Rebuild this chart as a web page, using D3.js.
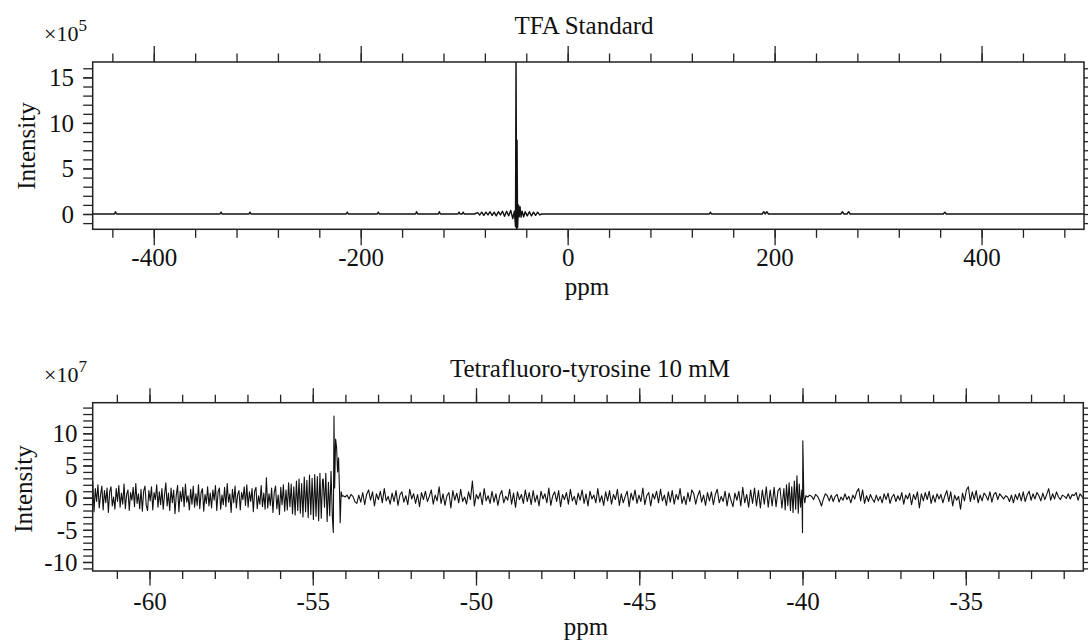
<!DOCTYPE html>
<html><head><meta charset="utf-8">
<script src="https://cdn.jsdelivr.net/npm/d3@7"></script>
<style>
body{margin:0;background:#fff}
svg{display:block}
text{font-family:"Liberation Serif","Times New Roman",serif;fill:#111}
</style></head><body>
<svg id="chart" width="1088" height="644"></svg>
<script>
// ---------------- DATA ----------------
const topTitle = "TFA Standard";
const bottomTitle = "Tetrafluoro-tyrosine 10 mM";
const xAxisLabel = "ppm";
const yAxisLabel = "Intensity";
const topExponent = "5";
const bottomExponent = "7";

const topXMajor = [-400, -200, 0, 200, 400];
const topYMajor = [0, 5, 10, 15];
const bottomXMajor = [-60, -55, -50, -45, -40, -35];
const bottomYMajor = [-10, -5, 0, 5, 10];

// TFA standard spectrum (ppm, intensity x1e5)
const tfaPpm = [-459, -438, -437, -436, -336, -335, -334, -308, -307, -306, -214, -213, -212, -184, -183, -182,
  -147, -146, -145, -125, -124, -123, -106, -105, -104, -102, -101, -100, -90, -87, -85, -83, -81, -79, -77,
  -75, -73, -71, -69, -67, -65, -63, -61, -59, -57, -55, -53, -51.5, -50.4, -49.9, -49.3, -48.9, -48.4, -47.5,
  -46.8, -46, -45, -44, -42.5, -41, -39, -37, -35, -33, -31, -29, -27, -25, 137, 138, 139, 188, 189.5, 191,
  192.5, 194, 264, 265.5, 267, 270, 271.5, 273, 363, 364.5, 366, 499];
const tfaInt = [0, 0, 0.25, 0, 0, 0.2, 0, 0, 0.2, 0, 0, 0.2, 0, 0, 0.2, 0,
  0, 0.25, 0, 0, 0.25, 0, 0, 0.2, 0, 0, 0.2, 0, 0, 0.15, -0.1, 0.2, -0.15, 0.2, -0.1,
  0.25, -0.15, 0.2, -0.2, 0.25, -0.1, 0.3, -0.25, 0.3, -0.2, 0.4, -0.5, 0.3, -1.4, 17.5, -1.6, 8.1, -1.5, 1.0,
  -0.3, 0.8, -0.35, 0.3, -0.3, 0.25, -0.2, 0.25, -0.2, 0.2, -0.15, 0.2, -0.1, 0, 0, 0.2, 0, 0, 0.25, 0,
  0.25, 0, 0, 0.25, 0, 0, 0.25, 0, 0, 0.2, 0, 0];

// Tetrafluoro-tyrosine spectrum (intensity x1e7): uniform ppm grid segments + peak regions
const noiseAStart = -61.74, noiseAStep = 0.04;
const noiseA = [2.6, -2.2, 1.4, -0.6, 2.0, -1.6, 0.4, 1.8, -1.9, 1.1,
  -0.8, 1.5, -2.3, 0.9, 1.7, -1.3, 0.1, -1.8, 1.4, -0.6,
  1.9, -1.5, 0.7, -1.0, 2.1, -1.7, 0.5, 1.2, -2.0, 0.8,
  -0.4, 1.6, -1.4, 2.2, -0.9, 0.6, -1.7, 1.3, -2.1, 1.0,
  1.8, -1.2, -2.0, 1.1, -0.5, 1.7, -1.9, 0.8, -0.3, 2.0,
  -1.5, 0.9, -1.1, 1.4, -1.8, 0.5, 2.3, -1.3, 0.7, -2.0,
  1.5, -0.8, 1.2, -2.5, 0.4, 1.9, -2.2, 1.0, -0.6, 1.6,
  -1.4, 2.1, -0.7, 0.3, -1.9, 1.3, -1.0, 1.8, -1.5, 0.6,
  -1.2, 2.0, -1.7, 0.8, 1.4, -2.1, 0.5, -0.9, 1.7, -1.3,
  0.7, -1.6, 1.2, -0.4, 1.9, -2.0, 0.9, 1.5, -1.8, 0.4,
  -1.1, 1.6, -1.4, 2.2, -0.7, 0.6, -2.3, 1.3, -0.8, 1.8,
  -1.6, 0.5, 1.1, -1.9, 0.8, -0.3, 1.7, -1.2, 2.0, -1.5,
  0.9, -0.6, 1.4, -2.2, 1.0, 1.6, -1.7, 0.3, -1.0, 1.9,
  -1.4, 0.7, -1.8, 3.1, -1.6, 0.6, -1.2, 1.5, -2.3, 0.8,
  1.8, -1.7, 0.4, -2.6, 1.6, -1.1, 2.0, -2.1, 1.2, -1.9,
  2.3, -1.4, 2.1, -2.5, 1.7, -2.7, 2.6, -2.0, 2.9, -2.4,
  2.2, -3.0, 3.2, -2.2, 2.7, -3.1, 3.5, -2.6, 3.0, -3.4,
  3.6, -2.9, 3.3, -3.6, 3.8, -3.2, 2.8];
const peakAPpm = [-54.68, -54.64, -54.60, -54.56, -54.52, -54.48, -54.44, -54.40, -54.37, -54.35, -54.33, -54.30,
  -54.27, -54.24, -54.21, -54.18, -54.16, -54.13, -54.10];
const peakAInt = [2.9, -1.5, 3.8, -3.7, 2.4, -2.8, 4.1, -3.0, -5.4, 12.7, 1.5, 9.1, 7.8, 4.0, 6.2, 1.0, -3.9, 0.9, 0.2];
const noiseBStart = -54.07, noiseBStep = 0.06;
const noiseB = [0.3, 0.1, 0.4, -0.2, 0.5, 0.2, -0.6, -0.9, 0.4,
  -0.7, 0.8, -1.1, 0.5, 1.2, -0.4, 0.9, -1.3, 0.6, -0.3,
  1.0, -0.8, 1.4, -0.5, 0.2, -1.0, 0.7, -0.6, 1.1, -1.2,
  0.4, 0.9, -0.7, 0.3, -1.1, 1.3, -0.2, 0.6, -0.9, 0.5,
  -1.4, 0.8, -0.3, 1.0, -0.6, 0.2, 1.2, -1.0, 0.4, -0.5,
  1.7, -0.9, 0.6, -1.2, 0.3, 0.8, -1.6, 1.1, -0.4, 0.7,
  -0.8, 1.3, -0.6, 0.1, -1.0, 0.9, -0.3, 2.6, -1.3, 0.5,
  -0.2, 0.8, -1.1, 1.4, -0.5, 0.3, -0.9, 1.0, -0.7, 0.6,
  -1.2, 0.4, 1.1, -0.8, 0.2, -0.4, 1.3, -1.0, 0.7, -1.5,
  0.9, -0.3, 0.5, -0.9, 1.2, -0.6, 0.8, -1.1, 1.1, -0.7,
  0.4, -1.3, 1.0, -0.2, 0.6, -0.8, 1.5, -1.2, 0.3, 0.9,
  -0.6, 1.1, -1.4, 0.5, -0.3, 0.8, -1.0, 1.3, -0.5, 0.2,
  -1.1, 0.7, -0.4, 1.2, -0.9, 0.6, -1.3, 1.0, -0.2, 0.4,
  -0.8, 1.4, -0.7, 0.3, -1.2, 0.9, -0.5, 1.1, -1.0, 0.5,
  -0.3, 1.3, -1.2, 0.6, -0.8, 0.2, 1.0, -1.4, 0.7, -0.4,
  1.2, -0.9, 0.4, -0.6, 1.5, -1.1, 0.3, 0.8, -1.3, 0.6,
  -0.2, 1.0, -0.8, 1.3, -0.5, 0.4, -1.2, 0.9, -0.7, 1.1,
  -1.0, 0.5, -0.3, 1.4, -0.9, 0.2, -1.1, 0.8, -0.6, 1.2,
  0.6, -1.0, 0.3, 1.1, -0.7, 0.4, -1.2, 0.8, -0.5, 0.9,
  -1.1, 0.5, 1.3, -0.8, 0.2, -0.6, 1.0, -1.3, 0.7, -0.4,
  -1.4, 0.7, -0.4, 1.0, -1.3, 1.6, -0.8, 0.5, -1.5, 1.2,
  -0.9, 1.5, -1.3, 1.1, -1.6, 1.2, -1.0, 1.7, -1.5, 1.2,
  -1.3, 1.6, -1.4, 1.1, 1.5, -1.6];
const peakBPpm = [-40.57, -40.53, -40.49, -40.45, -40.41, -40.37, -40.33, -40.29, -40.25, -40.21, -40.17,
  -40.13, -40.10, -40.06, -40.02, -40.00, -39.99, -39.96, -39.93];
const peakBInt = [1.4, -1.9, 2.0, -1.2, 2.3, -2.0, 1.7, -2.3, 2.6, -1.8, 3.4, -2.4, 2.1, -1.5, 1.2, -5.45, 8.85, 0.2, -0.8];
const noiseCStart = -39.90, noiseCStep = 0.06;
const noiseC = [0.3, 0.1, 0.4, 0.2, -0.3, 0.5, 0.2, -0.4, -1.3, -0.2,
  0.6, 0.3, -0.5, 0.4, -0.6, 0.2, 0.5, -0.7, 0.1, -0.4,
  0.6, -0.3, 0.2, -0.8, 0.4, -0.2, 0.9, 1.4, -0.5, 1.2,
  -0.9, 0.3, -0.6, 0.5, -0.2, -0.7, 0.4, -0.5, 0.2, -0.8,
  0.6, -0.3, 0.7, -0.9, 0.1, 0.5, -0.6, 0.3, -0.4, 0.8,
  -1.0, 0.4, -0.2, 0.7, -1.1, 0.5, -0.3, 0.9, -1.6, 0.6,
  -0.5, 0.8, -0.3, 1.0, -0.9, 0.4, -0.7, 0.6, -0.2, 0.5,
  -0.8, 0.3, 1.1, -0.6, 0.9, -1.3, 0.4, -0.4, 0.2, -1.8,
  0.7, -0.5, 1.2, 1.7, -0.6, 0.9, -0.3, 1.1, -0.8, 0.4,
  -0.5, 0.7, 0.3, -0.4, 0.9, -0.7, 0.5, 0.8, -0.3, 0.6,
  0.2, -0.2, 0.3, 0.1, -0.6, 0.4, -0.8, 0.5, -0.3, 0.7,
  -0.5, 0.9, -0.6, 0.4, 1.0, -0.4, 0.6, -0.2, 0.8, 0.3,
  -0.5, 0.7, -0.3, 0.5, 1.4, -0.4, 0.6, -0.2, 0.9, 0.1,
  -0.3, 0.4, 0.2, -0.1, 0.6, -0.2, 0.5, 0.3, 0.8, -0.4, 0.6, 0.2, -0.3];

// ---------------- BUILD SERIES ----------------
const zip = (xs, ys) => xs.map((x, i) => [x, ys[i]]);
const grid = (start, step, vals) => vals.map((v, i) => [start + i * step, v]);
const topSeries = zip(tfaPpm, tfaInt);
const bottomSeries = [].concat(
  grid(noiseAStart, noiseAStep, noiseA), zip(peakAPpm, peakAInt),
  grid(noiseBStart, noiseBStep, noiseB), zip(peakBPpm, peakBInt),
  grid(noiseCStart, noiseCStep, noiseC));

const svg = d3.select("#chart");
const FONT = 25;

function drawPanel(o) {
  const g = svg.append("g");
  const x = d3.scaleLinear().domain(o.xDomain).range([o.left, o.right]);
  const y = d3.scaleLinear().domain(o.yDomain).range([o.bottom, o.top]);
  const clipId = "clip" + o.id;
  svg.append("clipPath").attr("id", clipId).append("rect")
    .attr("x", o.left).attr("y", o.top).attr("width", o.right - o.left).attr("height", o.bottom - o.top);

  const xMinor = d3.range(o.xMinorStart, o.xDomain[1] + 1e-9, o.xMinorStep).map(v => +v.toFixed(6));
  const yMinor = d3.range(Math.ceil(o.yDomain[0]), o.yDomain[1] + 1e-9, 1);

  const tickStyle = sel => { sel.select(".domain").remove(); sel.selectAll("line").attr("stroke", "#222").attr("stroke-width", 1.3); };
  const labelStyle = s => s.style("font-size", FONT + "px").style("font-family", "'Liberation Serif',serif").attr("fill", "#111");
  // bottom x ticks
  g.append("g").attr("transform", `translate(0,${o.bottom})`)
    .call(d3.axisBottom(x).tickValues(xMinor).tickSize(o.minorLen).tickFormat("")).call(tickStyle);
  g.append("g").attr("transform", `translate(0,${o.bottom})`)
    .call(d3.axisBottom(x).tickValues(o.xMajor).tickSize(o.majorLen).tickFormat(d => String(d)))
    .call(tickStyle)
    .call(s => labelStyle(s.selectAll("text").attr("y", o.xLabelY - o.bottom).attr("dy", 0)));
  // top x ticks
  g.append("g").attr("transform", `translate(0,${o.top})`)
    .call(d3.axisTop(x).tickValues(xMinor).tickSize(o.minorLen).tickFormat("")).call(tickStyle);
  g.append("g").attr("transform", `translate(0,${o.top})`)
    .call(d3.axisTop(x).tickValues(o.xMajor).tickSize(o.majorLen).tickFormat("")).call(tickStyle);
  // left y ticks
  g.append("g").attr("transform", `translate(${o.left},0)`)
    .call(d3.axisLeft(y).tickValues(yMinor).tickSize(9.5).tickFormat("")).call(tickStyle);
  g.append("g").attr("transform", `translate(${o.left},0)`)
    .call(d3.axisLeft(y).tickValues(o.yMajor).tickSize(9.5).tickFormat(d => String(d)))
    .call(tickStyle)
    .call(s => labelStyle(s.selectAll("text").attr("x", o.yLabelX - o.left).attr("dy", "0.34em")));
  // right y ticks
  g.append("g").attr("transform", `translate(${o.right},0)`)
    .call(d3.axisRight(y).tickValues(yMinor).tickSize(9).tickFormat("")).call(tickStyle);

  // spectrum
  const line = d3.line().x(d => x(d[0])).y(d => y(d[1]));
  g.append("path").datum(o.series).attr("clip-path", `url(#${clipId})`)
    .attr("d", line).attr("fill", "none").attr("stroke", "#111")
    .attr("stroke-width", o.lineWidth).attr("stroke-linejoin", "round");

  // frame
  g.append("rect").attr("x", o.left).attr("y", o.top)
    .attr("width", o.right - o.left).attr("height", o.bottom - o.top)
    .attr("fill", "none").attr("stroke", "#222").attr("stroke-width", 1.5);

  // title
  g.append("text").attr("x", o.titleX).attr("y", o.titleY).attr("text-anchor", "middle")
    .style("font-size", FONT + "px").text(o.title);
  // x label
  g.append("text").attr("x", o.ppmX).attr("y", o.ppmY).attr("text-anchor", "middle")
    .style("font-size", FONT + "px").text(xAxisLabel);
  // y label
  g.append("text").attr("transform", `translate(${o.yTitleX},${o.yTitleY}) rotate(-90)`)
    .attr("text-anchor", "middle").style("font-size", FONT + "px").text(yAxisLabel);
  // exponent
  const ex = g.append("text").attr("x", 44).attr("y", o.expY).style("font-size", "22px");
  ex.append("tspan").text("\u00d710");
  ex.append("tspan").attr("dy", -10).style("font-size", "17px").text(o.exponent);
}

drawPanel({
  id: "top", title: topTitle, series: topSeries, exponent: topExponent,
  xDomain: [-459, 499], yDomain: [-1.68, 16.69],
  left: 92.7, right: 1084, top: 62, bottom: 229.3,
  xMajor: topXMajor, yMajor: topYMajor, xMinorStart: -440, xMinorStep: 40,
  minorLen: 8.5, majorLen: 16, xLabelY: 266.5, yLabelX: 74,
  titleX: 584, titleY: 34, ppmX: 587, ppmY: 295, yTitleX: 35, yTitleY: 146, expY: 40.5,
  lineWidth: 1.4
});

drawPanel({
  id: "bot", title: bottomTitle, series: bottomSeries, exponent: bottomExponent,
  xDomain: [-61.74, -31.4], yDomain: [-11.4, 14.76],
  left: 92.7, right: 1083.3, top: 402.7, bottom: 571,
  xMajor: bottomXMajor, yMajor: bottomYMajor, xMinorStart: -61, xMinorStep: 1,
  minorLen: 8, majorLen: 14.5, xLabelY: 610, yLabelX: 77.5,
  titleX: 590, titleY: 376.5, ppmX: 586, ppmY: 635, yTitleX: 31.5, yTitleY: 489, expY: 381.5,
  lineWidth: 1.1
});
</script>
</body></html>
